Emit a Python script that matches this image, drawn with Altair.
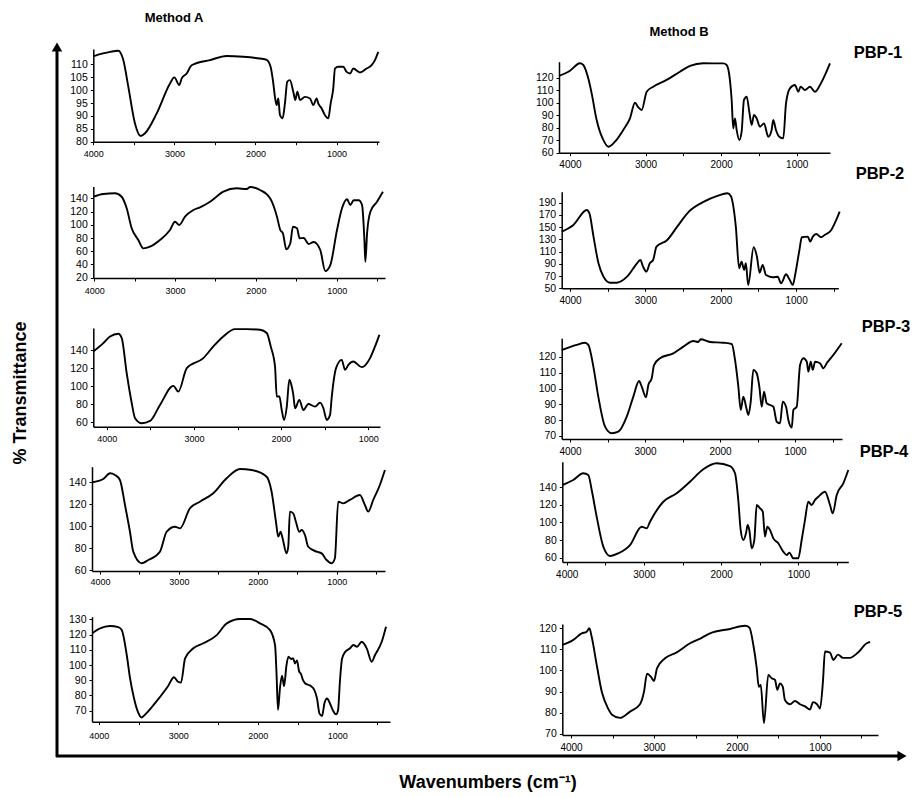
import altair as alt
import pandas as pd

W, H = 917, 797
FONT = "Liberation Sans"

# ---------------- data: wavenumber (cm-1) and % transmittance ----------------
a1_wn = [4000, 3880, 3794, 3692, 3630, 3568, 3486, 3416, 3362, 3218, 3054, 3001, 2940, 2910, 2848, 2787,
         2561, 2355, 2150, 1945, 1862, 1813, 1780, 1760, 1739, 1719, 1698, 1665, 1637, 1608, 1575, 1534,
         1509, 1484, 1451, 1390, 1328, 1287, 1246, 1226, 1184, 1143, 1102, 1073, 1041, 1020, 979, 918,
         876, 835, 794, 712, 630, 568, 527, 486]
a1_t = [113.2, 114.3, 114.9, 115.3, 111.7, 101.3, 87.1, 82.2, 83.3, 91.0, 102.6, 105.0, 102.0, 104.6, 106.5, 109.7,
        111.7, 113.3, 113.0, 112.3, 111.8, 109.0, 102.6, 97.4, 94.2, 96.8, 90.3, 89.1, 94.9, 103.3, 103.9, 99.4,
        96.2, 99.4, 96.2, 97.4, 96.8, 94.2, 96.8, 94.9, 92.9, 90.3, 89.1, 94.9, 100.7, 108.4, 109.1, 109.1,
        107.1, 106.5, 108.4, 106.9, 108.4, 109.7, 111.7, 114.9]

a2_wn = [4010, 3889, 3744, 3661, 3599, 3537, 3455, 3393, 3310, 3187, 3063, 3001, 2948, 2877, 2774, 2691,
         2567, 2402, 2237, 2113, 2072, 1948, 1824, 1739, 1698, 1665, 1624, 1574, 1541, 1491, 1459, 1409,
         1347, 1285, 1203, 1141, 1079, 996, 934, 872, 831, 790, 728, 686, 657, 645, 624, 583, 501, 427]
a2_t = [142.4, 146.5, 147.6, 142.4, 124.9, 94.7, 77.0, 64.4, 67.0, 77.0, 92.1, 104.6, 99.7, 112.2, 122.3, 126.4,
        134.9, 150.0, 155.1, 154.0, 157.0, 152.5, 140.0, 112.2, 92.1, 87.1, 62.9, 72.0, 97.1, 94.7, 79.6, 80.0,
        71.0, 74.0, 61.9, 30.1, 39.2, 92.1, 124.9, 138.5, 129.9, 137.0, 137.0, 130.0, 77.0, 44.2, 87.0, 119.8, 134.9, 150.0]

a3_wn = [4154, 4039, 3962, 3867, 3828, 3771, 3713, 3675, 3599, 3503, 3389, 3236, 3179, 3082, 2892, 2777,
         2663, 2528, 2394, 2242, 2165, 2119, 2070, 2050, 2020, 1993, 1966, 1935, 1906, 1878, 1860, 1840,
         1791, 1745, 1688, 1611, 1553, 1515, 1477, 1439, 1419, 1370, 1305, 1267, 1229, 1172, 1075, 980, 923, 873]
a3_t = [138.9, 148.2, 155.6, 158.6, 153.8, 114.8, 81.4, 64.7, 59.1, 61.7, 79.5, 100.7, 94.3, 120.4, 131.5, 144.5,
        155.6, 163.8, 163.8, 163.0, 159.4, 144.5, 122.2, 88.8, 88.8, 73.9, 62.8, 77.6, 107.4, 99.9, 90.7, 75.8,
        85.1, 73.9, 80.6, 77.6, 82.1, 75.8, 62.8, 68.4, 88.8, 120.4, 129.6, 118.5, 124.1, 127.7, 121.5, 131.5, 144.5, 157.5]

a4_wn = [4098, 3958, 3873, 3810, 3747, 3683, 3620, 3578, 3472, 3388, 3240, 3155, 3050, 2986, 2860, 2733,
         2564, 2395, 2226, 2078, 1888, 1825, 1770, 1741, 1711, 1686, 1635, 1614, 1593, 1551, 1517, 1475,
         1444, 1402, 1361, 1254, 1191, 1128, 1064, 1023, 981, 917, 833, 706, 643, 601, 537, 453, 389]
a4_t = [140.0, 143.0, 148.2, 146.7, 142.1, 119.3, 94.9, 76.7, 66.1, 69.1, 76.7, 94.9, 99.5, 98.0, 116.3, 122.3,
        130.0, 143.6, 152.1, 151.2, 145.1, 131.4, 104.0, 90.4, 94.9, 88.9, 75.2, 81.2, 113.2, 111.7, 104.0, 94.9,
        96.5, 91.9, 81.2, 76.7, 75.2, 69.1, 66.1, 70.7, 122.3, 120.8, 123.9, 128.4, 119.3, 113.2, 123.9, 137.5, 151.2]

a5_wn = [4082, 3985, 3859, 3755, 3712, 3649, 3607, 3557, 3507, 3463, 3406, 3331, 3230, 3130, 3055, 3004,
         2966, 2915, 2811, 2685, 2517, 2391, 2224, 2098, 1972, 1846, 1783, 1765, 1746, 1721, 1695, 1670,
         1639, 1614, 1582, 1557, 1532, 1507, 1481, 1456, 1431, 1406, 1368, 1330, 1293, 1255, 1224, 1192,
         1161, 1129, 1091, 1054, 1016, 991, 966, 941, 903, 840, 798, 752, 693, 630, 567, 525, 441, 387]
a5_t = [120.9, 124.1, 125.7, 124.9, 123.0, 106.6, 91.2, 78.0, 69.0, 65.5, 68.0, 72.5, 79.0, 86.0, 92.0, 89.0,
        88.5, 104.4, 111.0, 114.3, 119.7, 127.4, 130.3, 130.3, 127.4, 123.0, 113.0, 95.0, 70.5, 85.0, 93.0, 86.0,
        100.0, 105.5, 104.0, 104.5, 101.0, 103.0, 96.0, 94.0, 90.0, 88.0, 87.0, 86.0, 84.0, 78.0, 68.0, 66.5,
        75.0, 78.0, 74.5, 70.0, 67.5, 70.0, 90.0, 104.0, 108.5, 111.0, 113.2, 112.0, 115.3, 111.0, 102.2, 106.6, 115.3, 125.2]

b1_wn = [4145, 4000, 3868, 3824, 3758, 3713, 3647, 3559, 3493, 3405, 3295, 3206, 3140, 3096, 3051, 2985,
         2898, 2721, 2545, 2412, 2237, 1972, 1927, 1884, 1861, 1840, 1817, 1795, 1760, 1729, 1698, 1662,
         1628, 1596, 1566, 1531, 1486, 1433, 1377, 1332, 1311, 1275, 1231, 1178, 1142, 1090, 1023, 980,
         948, 891, 825, 759, 692, 626, 560]
b1_t = [121.4, 125.6, 131.5, 130.2, 119.5, 107.5, 86.2, 70.2, 64.8, 68.8, 78.2, 87.5, 100.0, 96.3, 94.2, 108.8,
        112.8, 118.2, 124.8, 129.4, 131.5, 131.5, 130.2, 118.2, 102.2, 79.5, 87.5, 78.2, 70.2, 76.8, 102.2, 104.8,
        92.8, 82.2, 90.2, 87.5, 80.8, 83.5, 72.8, 78.2, 86.2, 78.2, 72.8, 71.5, 99.5, 111.5, 114.2, 108.8,
        112.8, 110.2, 112.8, 108.8, 114.2, 122.2, 131.5]

b2_wn = [4111, 3956, 3778, 3743, 3689, 3623, 3556, 3467, 3378, 3244, 3111, 3067, 3031, 2987, 2942, 2898,
         2853, 2711, 2578, 2423, 2223, 2045, 1911, 1867, 1800, 1756, 1724, 1689, 1667, 1636, 1564, 1520,
         1484, 1444, 1400, 1311, 1244, 1200, 1133, 1089, 1044, 1013, 956, 924, 844, 813, 778, 733, 667,
         622, 533, 467, 422]
b2_t = [142.6, 153.6, 178.1, 172.7, 134.5, 90.9, 69.0, 59.2, 59.2, 69.0, 90.9, 96.3, 85.4, 77.2, 90.9, 96.3,
        118.1, 129.0, 150.8, 175.4, 191.7, 201.1, 205.5, 201.1, 150.8, 82.7, 93.5, 80.0, 90.9, 55.4, 117.1, 101.7,
        75.5, 88.1, 71.8, 68.0, 69.0, 58.2, 72.9, 64.7, 55.4, 71.8, 112.7, 133.5, 134.5, 126.3, 134.5, 138.9, 133.5,
        137.2, 145.4, 161.8, 175.4]

b3_wn = [4111, 3911, 3800, 3756, 3689, 3623, 3533, 3444, 3356, 3244, 3156, 3080, 3044, 2987, 2956, 2911,
         2880, 2800, 2622, 2489, 2356, 2289, 2258, 2133, 1956, 1844, 1800, 1756, 1724, 1689, 1653, 1622,
         1591, 1556, 1511, 1476, 1444, 1413, 1378, 1333, 1289, 1244, 1200, 1164, 1120, 1089, 1044, 1022,
         978, 933, 889, 844, 822, 791, 764, 733, 667, 622, 578, 489, 378]
b3_t = [124.4, 127.6, 129.0, 127.6, 113.9, 94.9, 75.9, 71.7, 72.7, 82.2, 94.9, 104.8, 101.2, 94.5, 102.3, 106.5,
        114.9, 119.2, 122.3, 126.5, 130.1, 129.5, 131.2, 129.5, 129.0, 128.2, 118.1, 101.2, 86.5, 94.9, 88.5, 83.3,
        91.7, 111.8, 109.7, 101.2, 88.5, 98.0, 90.7, 89.6, 88.5, 79.0, 78.0, 91.7, 88.5, 80.1, 75.3, 86.5,
        88.5, 114.9, 119.2, 117.0, 110.7, 117.0, 111.8, 117.0, 116.0, 112.8, 116.0, 121.3, 128.7]

b4_wn = [4057, 3915, 3785, 3720, 3676, 3612, 3526, 3439, 3332, 3180, 3029, 2964, 2921, 2749, 2576, 2403,
         2231, 2057, 1885, 1820, 1778, 1747, 1713, 1678, 1656, 1635, 1604, 1570, 1539, 1496, 1461, 1432,
         1402, 1367, 1324, 1260, 1195, 1151, 1117, 1065, 1001, 957, 914, 871, 828, 784, 741, 655, 590,
         555, 503, 418, 353]
b4_t = [142.6, 148.3, 155.9, 154.0, 136.9, 106.6, 72.5, 61.9, 65.0, 74.4, 95.2, 93.4, 100.9, 123.6, 133.2, 146.4,
        160.5, 167.3, 164.2, 155.9, 125.6, 91.5, 80.1, 87.7, 97.2, 91.5, 70.7, 80.1, 119.9, 116.1, 112.3, 83.9,
        95.2, 91.5, 82.0, 76.4, 66.8, 63.1, 65.7, 59.3, 59.3, 80.1, 102.8, 123.6, 119.9, 125.6, 129.3, 135.0, 119.9,
        110.5, 131.3, 144.5, 159.7]

b5_wn = [4105, 3972, 3871, 3811, 3779, 3751, 3690, 3630, 3554, 3506, 3410, 3289, 3169, 3120, 3084, 3036,
         3000, 2964, 2867, 2726, 2566, 2425, 2325, 2084, 1903, 1851, 1803, 1762, 1738, 1714, 1675, 1623,
         1582, 1542, 1514, 1482, 1449, 1422, 1361, 1301, 1241, 1181, 1120, 1084, 1036, 1000, 964, 940,
         879, 839, 783, 723, 639, 542, 437, 397]
b5_t = [112.1, 114.5, 117.6, 118.4, 120.0, 116.0, 102.6, 90.0, 82.0, 79.0, 77.5, 80.5, 84.0, 90.0, 98.5, 97.0,
        95.0, 101.0, 105.8, 108.6, 112.9, 115.5, 117.6, 119.7, 121.2, 120.4, 112.1, 101.0, 92.3, 93.1, 75.0, 97.9,
        96.3, 95.5, 90.8, 93.9, 92.3, 86.0, 84.0, 85.5, 84.0, 83.0, 81.5, 85.0, 84.0, 82.0, 95.0, 109.0,
        108.5, 105.0, 107.5, 106.0, 106.0, 108.5, 112.9, 113.5]

a_ticks_1 = [80, 85, 90, 95, 100, 105, 110]
a_ticks_2 = [20, 40, 60, 80, 100, 120, 140]
a_ticks_3 = [60, 80, 100, 120, 140]
a_ticks_4 = [60, 80, 100, 120, 140]
a_ticks_5 = [70, 80, 90, 100, 110, 120, 130]
b_ticks_1 = [60, 70, 80, 90, 100, 110, 120]
b_ticks_2 = [50, 70, 90, 110, 130, 150, 170, 190]
b_ticks_3 = [70, 80, 90, 100, 110, 120]
b_ticks_4 = [60, 80, 100, 120, 140]
b_ticks_5 = [70, 80, 90, 100, 110, 120]

# ---------------- layout of each panel (pixels) ----------------
panels = [
    dict(wn=a1_wn, t=a1_t, xr=[93.3, 379], xd=[4000, 477], yr=[141.7, 49], yd=[80, 116], yv=a_ticks_1, xfs=9, xp=5),
    dict(wn=a2_wn, t=a2_t, xr=[93.3, 385], xd=[4012, 402], yr=[278, 186.4], yd=[19.6, 158], yv=a_ticks_2, xfs=9, xp=5),
    dict(wn=a3_wn, t=a3_t, xr=[93.3, 380], xd=[4154, 866], yr=[426.7, 328], yd=[55.3, 165], yv=a_ticks_3, xfs=9, xp=5),
    dict(wn=a4_wn, t=a4_t, xr=[92, 385], xd=[4101, 388], yr=[571.1, 466.7], yd=[59, 154.2], yv=a_ticks_4, xfs=9, xp=3),
    dict(wn=a5_wn, t=a5_t, xr=[92, 390], xd=[4086, 337], yr=[721.7, 616.7], yd=[62.7, 131.8], yv=a_ticks_5, xfs=9, xp=7),
    dict(wn=b1_wn, t=b1_t, xr=[559, 830], xd=[4145, 560], yr=[152.7, 61.7], yd=[60, 132.8], yv=b_ticks_1, xfs=10, xp=4),
    dict(wn=b2_wn, t=b2_t, xr=[561.7, 838.3], xd=[4111, 440], yr=[288.3, 191.7], yd=[50, 208], yv=b_ticks_2, xfs=10, xp=4),
    dict(wn=b3_wn, t=b3_t, xr=[561.7, 842], xd=[4111, 374], yr=[439, 338.3], yd=[68.1, 131.8], yv=b_ticks_3, xfs=10, xp=4),
    dict(wn=b4_wn, t=b4_t, xr=[562.3, 848.3], xd=[4057, 353], yr=[562, 461.7], yd=[55.1, 169.1], yv=b_ticks_4, xfs=10, xp=4),
    dict(wn=b5_wn, t=b5_t, xr=[562.3, 878], xd=[4105, 301], yr=[735, 624.1], yd=[69.4, 122], yv=b_ticks_5, xfs=10, xp=4),
]


def panel(p):
    df = pd.DataFrame({"wn": p["wn"], "t": p["t"]})
    lo, hi = min(p["xd"]), max(p["xd"])
    xvals = [v for v in range(500, 4001, 500) if lo <= v <= hi]
    x = alt.X(
        "wn:Q",
        scale=alt.Scale(domain=p["xd"], range=p["xr"], nice=False, zero=False),
        axis=alt.Axis(orient="bottom", offset=p["yr"][0] - H, values=xvals, format="d",
                      labelExpr="datum.value % 1000 === 0 ? datum.label : ''",
                      grid=False, title=None, domainColor="black", domainWidth=1.5,
                      tickColor="black", tickSize=3, tickWidth=1,
                      labelFont=FONT, labelFontSize=p["xfs"], labelColor="black",
                      labelPadding=p["xp"], labelFlush=False, labelOverlap=False),
    )
    y = alt.Y(
        "t:Q",
        scale=alt.Scale(domain=p["yd"], range=p["yr"], nice=False, zero=False),
        axis=alt.Axis(orient="left", offset=-p["xr"][0], values=p["yv"], format="d",
                      grid=False, title=None, domainColor="black", domainWidth=1.5,
                      tickColor="black", tickSize=3, tickWidth=1,
                      labelFont=FONT, labelFontSize=10.5, labelColor="black",
                      labelPadding=3, labelFlush=False, labelOverlap=False),
    )
    return alt.Chart(df).mark_line(color="black", strokeWidth=1.9, interpolate="monotone").encode(
        x=x, y=y, order=alt.Order("wn:Q", sort="descending"))


one = pd.DataFrame({"a": [0]})


def label(txt, x, y, size, angle=0):
    return alt.Chart(one).mark_text(font=FONT, fontWeight="bold", fontSize=size, color="black",
                                    align="center", baseline="middle", angle=angle).encode(
        x=alt.value(x), y=alt.value(y), text=alt.value(txt))


deco = [
    alt.Chart(one).mark_rule(color="black", strokeWidth=3).encode(
        x=alt.value(57), y=alt.value(50), y2=alt.value(757)),
    alt.Chart(one).mark_rule(color="black", strokeWidth=3).encode(
        x=alt.value(56), x2=alt.value(898), y=alt.value(756)),
    alt.Chart(one).mark_point(shape="triangle-up", filled=True, size=110, color="black", opacity=1).encode(
        x=alt.value(57), y=alt.value(47)),
    alt.Chart(one).mark_point(shape="triangle-right", filled=True, size=110, color="black", opacity=1).encode(
        x=alt.value(902), y=alt.value(756)),
    label("Method A", 174, 18, 13),
    label("Method B", 679, 32, 13),
    label("PBP-1", 878, 53, 16.5),
    label("PBP-2", 880, 174, 16.5),
    label("PBP-3", 886, 327, 16.5),
    label("PBP-4", 884, 452, 16.5),
    label("PBP-5", 878, 612, 16.5),
    label("% Transmittance", 21, 393, 18, angle=270),
    label("Wavenumbers (cm\u207b\u00b9)", 488, 783, 18),
]

chart = alt.layer(*[panel(p) for p in panels], *deco).resolve_scale(
    x="independent", y="independent").resolve_axis(x="independent", y="independent").properties(
    width=W, height=H, padding=0, autosize=alt.AutoSizeParams(type="none"), background="white"
).configure_view(strokeWidth=0)

chart.save("out.html", embed_options={"renderer": "svg", "actions": False})
